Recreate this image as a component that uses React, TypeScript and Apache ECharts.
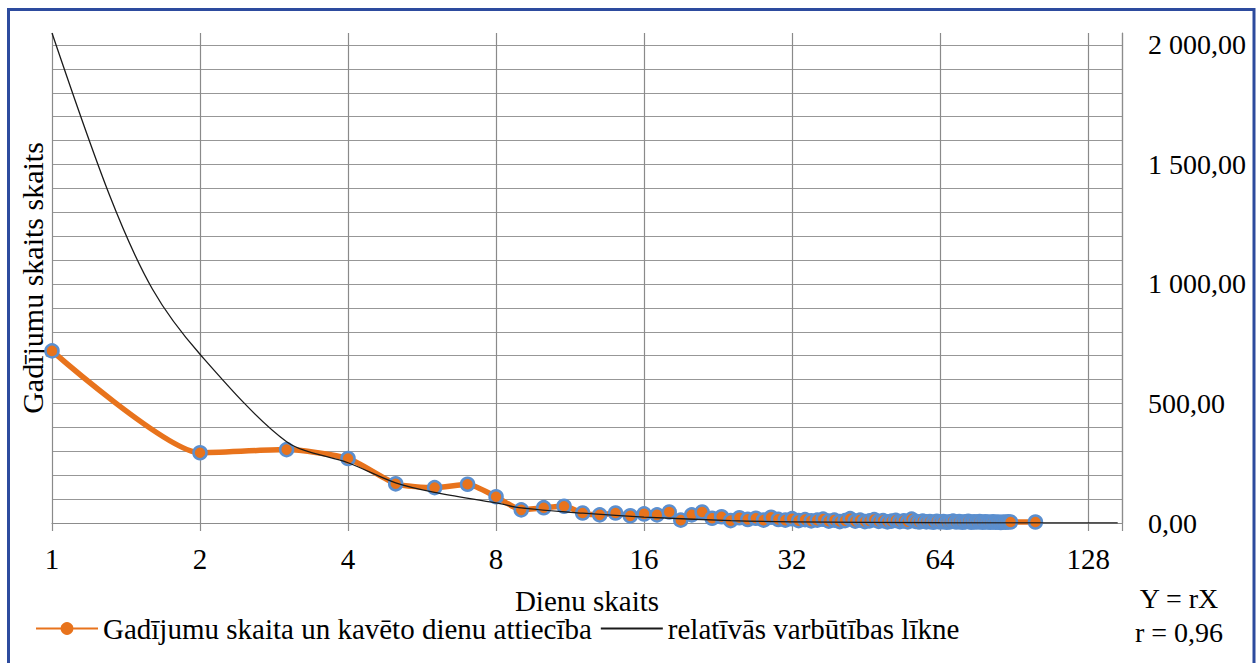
import React, { useEffect, useRef } from "react";
import * as echarts from "echarts";

// Orange series: days vs number of cases
const caseDays = [
  1, 2, 3, 4, 5, 6, 7, 8, 9, 10, 11, 12, 13, 14, 15, 16, 17, 18, 19, 20,
  21, 22, 23, 24, 25, 26, 27, 28, 29, 30, 31, 32, 33, 34, 35, 36, 37, 38, 39, 40,
  41, 42, 43, 44, 45, 46, 47, 48, 49, 50, 51, 52, 53, 54, 55, 56, 57, 58, 59, 60,
  61, 62, 63, 64, 65, 66, 67, 68, 69, 70, 71, 72, 73, 74, 75, 76, 77, 78, 79, 80,
  81, 82, 83, 84, 85, 86, 87, 88, 89, 100,
];
const caseValues = [
  720, 294, 307, 270, 164, 148, 162, 110, 55, 64, 70, 42, 34, 42, 30, 38, 34, 46, 12, 34,
  46, 20, 26, 10, 22, 15, 20, 12, 24, 15, 12, 18, 10, 14, 9, 12, 16, 8, 12, 6,
  10, 18, 8, 12, 6, 9, 14, 7, 10, 5, 8, 11, 6, 9, 5, 16, 7, 4, 8, 5,
  6, 3, 7, 4, 6, 3, 5, 8, 4, 6, 3, 5, 7, 3, 5, 4, 6, 3, 5, 4,
  3, 5, 3, 4, 2, 4, 3, 5, 4, 4,
];

// Black series: relative probability curve
const curveDays = [1, 1.31, 1.6, 2, 3, 4, 5, 6, 8, 9, 12, 16, 24, 32, 64, 147];
const curveValues = [2050, 1370, 979, 706, 340, 252, 168, 128, 84, 63, 41, 25, 10, 5, 1, 0.3];

const xTickLabels = ["1", "2", "4", "8", "16", "32", "64", "128"];
const seriesNames = [
  "Gadījumu skaita un kavēto dienu attiecība",
  "relatīvās varbūtības līkne",
];

const FONT = "'Liberation Serif', 'Times New Roman', 'DejaVu Serif', serif";

function fmtLv(v: number): string {
  const parts = v.toFixed(2).split(".");
  const intPart = parts[0].replace(/\B(?=(\d{3})+(?!\d))/g, " ");
  return intPart + "," + parts[1];
}

export default function App() {
  const ref = useRef<HTMLDivElement>(null);

  useEffect(() => {
    if (!ref.current) return;
    const chart = echarts.init(ref.current, undefined, { renderer: "svg" });

    const yMax = 2050;
    const gridColors: string[] = [];
    for (let v = 0; v <= 2000; v += 100) gridColors.push("#979797");
    gridColors.push("transparent");

    chart.setOption({
      animation: false,
      backgroundColor: "#ffffff",
      textStyle: { fontFamily: FONT },
      grid: { left: 52, right: 134, top: 33, bottom: 140, containLabel: false },
      legend: {
        left: 30,
        top: 609,
        itemWidth: 62,
        itemHeight: 16,
        itemGap: 8,
        textStyle: { fontFamily: FONT, fontSize: 29, color: "#000" },
        data: [
          { name: seriesNames[0], itemStyle: { borderWidth: 0 } },
          { name: seriesNames[1], itemStyle: { opacity: 0 } },
        ],
      },
      xAxis: {
        type: "log",
        logBase: 2,
        min: 1,
        max: 150,
        splitNumber: 8,
        name: "Dienu skaits",
        nameLocation: "middle",
        nameGap: 63,
        nameTextStyle: { fontFamily: FONT, fontSize: 29, color: "#000" },
        axisLine: { show: true, lineStyle: { color: "#8c8c8c", width: 1.2 } },
        axisTick: { show: true, length: 8, lineStyle: { color: "#8c8c8c", width: 1.2 } },
        axisLabel: {
          fontFamily: FONT,
          fontSize: 29,
          color: "#000",
          margin: 21,
          formatter: (v: number) => {
            const l = Math.log2(v);
            if (Math.abs(l - Math.round(l)) > 1e-6) return "";
            const s = String(Math.round(Math.pow(2, Math.round(l))));
            return xTickLabels.indexOf(s) >= 0 ? s : "";
          },
        },
        splitLine: { show: true, lineStyle: { color: "#8a8a8a", width: 1.2 } },
      },
      yAxis: {
        type: "value",
        position: "right",
        min: 0,
        max: yMax,
        interval: 100,
        axisLine: { show: true, lineStyle: { color: "#8c8c8c", width: 1.2 } },
        axisTick: { show: false },
        axisLabel: {
          fontFamily: FONT,
          fontSize: 28,
          color: "#000",
          margin: 26,
          formatter: (v: number) => (Math.abs(v % 500) < 1e-6 ? fmtLv(v) : ""),
        },
        splitLine: { show: true, lineStyle: { color: gridColors, width: 1.2 } },
      },
      graphic: [
        {
          type: "rect",
          shape: { x: 8.5, y: 9.5, width: 1245.5, height: 670 },
          style: { fill: "none", stroke: "#2D4B9E", lineWidth: 3 },
          silent: true,
        },
        {
          type: "text",
          x: 32,
          y: 278,
          rotation: Math.PI / 2,
          style: {
            text: "Gadījumu skaits skaits",
            fontFamily: FONT,
            fontSize: 30,
            fill: "#000",
            align: "center",
            verticalAlign: "middle",
          },
        },
        {
          type: "text",
          x: 1179,
          y: 598,
          style: {
            text: "Y = rX",
            fontFamily: FONT,
            fontSize: 28,
            fill: "#000",
            align: "center",
            verticalAlign: "middle",
          },
        },
        {
          type: "text",
          x: 1179,
          y: 632,
          style: {
            text: "r = 0,96",
            fontFamily: FONT,
            fontSize: 28,
            fill: "#000",
            align: "center",
            verticalAlign: "middle",
          },
        },
      ],
      series: [
        {
          name: seriesNames[0],
          type: "line",
          smooth: 0.2,
          data: caseDays.map((d, i) => [d, caseValues[i]]),
          symbol: "circle",
          symbolSize: 13,
          showSymbol: true,
          lineStyle: { color: "#E8731C", width: 5.5 },
          itemStyle: { color: "#E8731C", borderColor: "#5B8FCF", borderWidth: 2.5 },
          z: 3,
        },
        {
          name: seriesNames[1],
          type: "line",
          smooth: 0.3,
          data: curveDays.map((d, i) => [d, curveValues[i]]),
          symbol: "none",
          showSymbol: false,
          lineStyle: { color: "#1a1a1a", width: 1.3 },
          itemStyle: { color: "#1a1a1a" },
          z: 4,
        },
      ],
    });

    return () => chart.dispose();
  }, []);

  return (
    <div
      ref={ref}
      style={{ position: "absolute", left: 0, top: 0, width: 1256, height: 663, background: "#fff" }}
    />
  );
}
